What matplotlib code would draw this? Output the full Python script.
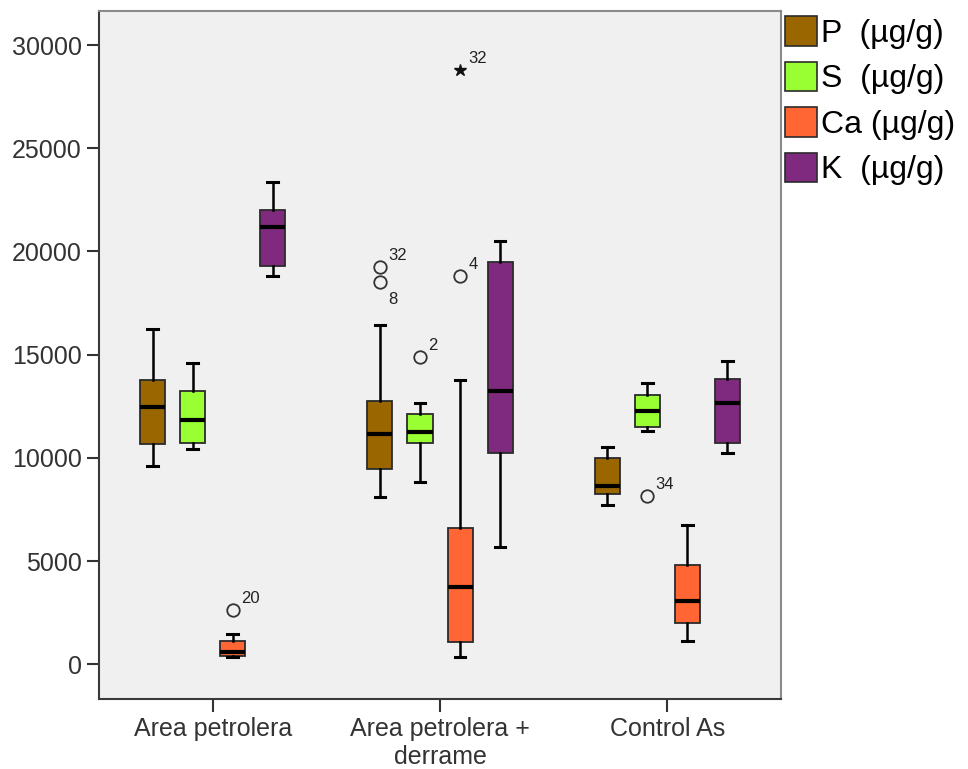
import matplotlib
matplotlib.use("Agg")
import matplotlib.pyplot as plt
from matplotlib.patches import Patch

plt.rcParams['font.family'] = ['Liberation Sans', 'DejaVu Sans']

# Sites on the x axis
sites = ["Area petrolera", "Area petrolera +\nderrame", "Control As"]
elements = ["P  (µg/g)", "S  (µg/g)", "Ca (µg/g)", "K  (µg/g)"]
colors = ["#996600", "#99FF33", "#FF6633", "#7F2A7F"]

# Five-number summaries per element, one value per site
P_whislo = [9600, 8100, 7700]
P_q1 = [10650, 9450, 8240]
P_med = [12450, 11150, 8650]
P_q3 = [13780, 12760, 9980]
P_whishi = [16250, 16440, 10540]

S_whislo = [10420, 8820, 11320]
S_q1 = [10710, 10710, 11480]
S_med = [11840, 11240, 12290]
S_q3 = [13240, 12130, 13050]
S_whishi = [14580, 12650, 13630]

Ca_whislo = [340, 370, 1130]
Ca_q1 = [400, 1100, 2020]
Ca_med = [610, 3760, 3050]
Ca_q3 = [1140, 6620, 4810]
Ca_whishi = [1470, 13780, 6750]

K_whislo = [18810, 5670, 10220]
K_q1 = [19300, 10220, 10710]
K_med = [21170, 13260, 12650]
K_q3 = [22010, 19480, 13810]
K_whishi = [23370, 20520, 14700]

# Outliers: (site index, element index, value, case label)
outlier_site = [0, 1, 1, 1, 1, 2]
outlier_elem = [2, 0, 0, 1, 2, 1]
outlier_value = [2630, 19260, 18540, 14900, 18810, 8170]
outlier_label = ["20", "32", "8", "2", "4", "34"]

# Extreme values (drawn as stars)
extreme_site = [1]
extreme_elem = [2]
extreme_value = [28790]
extreme_label = ["32"]

summaries = [
    (P_whislo, P_q1, P_med, P_q3, P_whishi),
    (S_whislo, S_q1, S_med, S_q3, S_whishi),
    (Ca_whislo, Ca_q1, Ca_med, Ca_q3, Ca_whishi),
    (K_whislo, K_q1, K_med, K_q3, K_whishi),
]

offsets = [-0.264, -0.088, 0.088, 0.264]
box_w = 0.11
cap_w = 0.048

fig = plt.figure(figsize=(9.68, 7.69), dpi=100)
ax = fig.add_axes([0.1023, 0.0910, 0.7045, 0.8947])
ax.set_facecolor("#F0F0F0")

for e, (wlo, q1, med, q3, whi) in enumerate(summaries):
    stats = []
    for s in range(len(sites)):
        stats.append(dict(whislo=wlo[s], q1=q1[s], med=med[s], q3=q3[s],
                          whishi=whi[s], fliers=[]))
    pos = [s + offsets[e] for s in range(len(sites))]
    ax.bxp(stats, positions=pos, widths=box_w, capwidths=cap_w,
           patch_artist=True, showfliers=False, manage_ticks=False,
           boxprops=dict(facecolor=colors[e], edgecolor="#2b2b2b", linewidth=1.3),
           medianprops=dict(color="black", linewidth=3.0, solid_capstyle="butt"),
           whiskerprops=dict(color="black", linewidth=1.8),
           capprops=dict(color="black", linewidth=2.2))

for s, e, v, lab in zip(outlier_site, outlier_elem, outlier_value, outlier_label):
    x = s + offsets[e]
    ax.plot(x, v, marker="o", ms=9, mfc="none", mec="#333333", mew=1.3, ls="none")
    ax.annotate(lab, (x, v), xytext=(6, 5) if lab != "8" else (6, -16),
                textcoords="offset points", fontsize=12, color="#222222")

for s, e, v, lab in zip(extreme_site, extreme_elem, extreme_value, extreme_label):
    x = s + offsets[e]
    ax.plot(x, v, marker="*", ms=9, color="#111111", ls="none")
    ax.annotate(lab, (x, v), xytext=(6, 5), textcoords="offset points",
                fontsize=12, color="#222222")

ax.set_xlim(-0.5, 2.5)
ax.set_ylim(-1680, 31650)
ax.set_xticks(range(len(sites)))
ax.set_xticklabels(sites)
ax.set_yticks([0, 5000, 10000, 15000, 20000, 25000, 30000])
ax.tick_params(axis="both", direction="out", length=9, width=1.5,
               color="#333333", labelsize=18, labelcolor="#333333")
ax.tick_params(axis="x", pad=4)

for side in ["left", "bottom"]:
    ax.spines[side].set_color("#3a3a3a")
    ax.spines[side].set_linewidth(1.5)
for side in ["top", "right"]:
    ax.spines[side].set_color("#8a8a8a")
    ax.spines[side].set_linewidth(1.5)

handles = [Patch(facecolor=c, edgecolor="#2b2b2b", linewidth=1.2) for c in colors]
fig.legend(handles, elements, loc="upper left", bbox_to_anchor=(0.811, 0.979),
           frameon=False, fontsize=23, handlelength=1.0, handleheight=1.05,
           handletextpad=0.12, labelspacing=0.40, borderpad=0.0,
           borderaxespad=0.0)

fig.savefig("out.png", dpi=100)
